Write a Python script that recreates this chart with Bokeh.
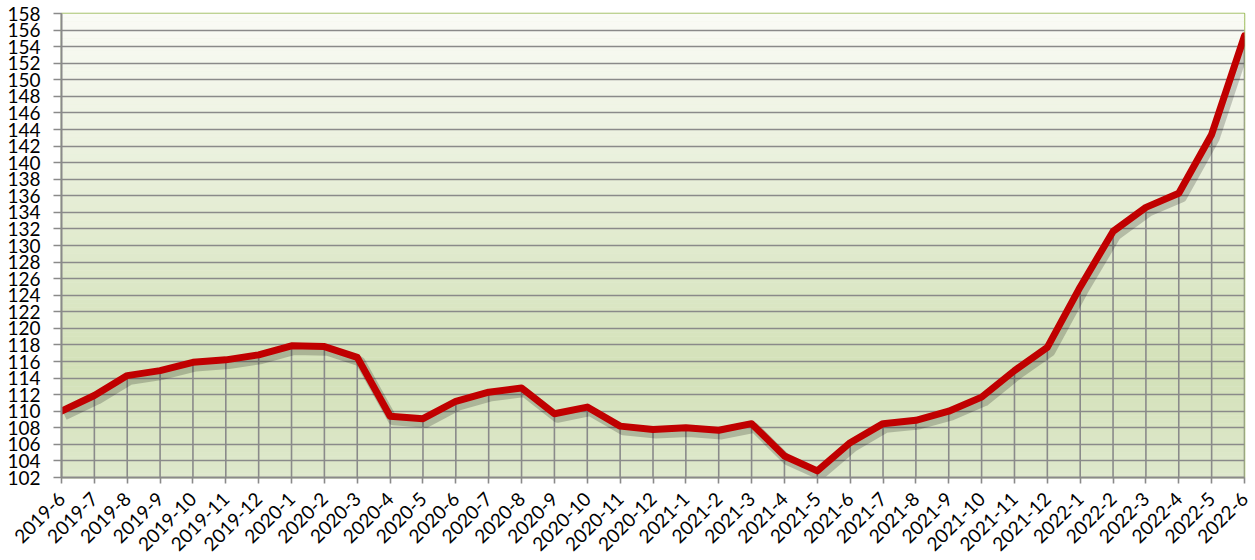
import numpy as np
from bokeh.plotting import figure
from bokeh.models import ColumnDataSource, Range1d, FixedTicker, BoxAnnotation
from bokeh.transform import dodge
from bokeh.embed import file_html
from bokeh.resources import INLINE

months = ["2019-6", "2019-7", "2019-8", "2019-9", "2019-10", "2019-11", "2019-12",
          "2020-1", "2020-2", "2020-3", "2020-4", "2020-5", "2020-6", "2020-7",
          "2020-8", "2020-9", "2020-10", "2020-11", "2020-12", "2021-1", "2021-2",
          "2021-3", "2021-4", "2021-5", "2021-6", "2021-7", "2021-8", "2021-9",
          "2021-10", "2021-11", "2021-12", "2022-1", "2022-2", "2022-3", "2022-4",
          "2022-5", "2022-6"]
values = [110.0, 111.9, 114.3, 114.9, 115.9, 116.2, 116.8,
          117.9, 117.8, 116.5, 109.4, 109.1, 111.2, 112.3,
          112.8, 109.7, 110.5, 108.2, 107.8, 108.0, 107.7,
          108.5, 104.6, 102.8, 106.2, 108.5, 108.9, 110.0,
          111.7, 114.9, 117.7, 125.0, 131.7, 134.6, 136.3,
          143.4, 155.3]
y_ticks = list(range(102, 159, 2))

FONT = "Lato"

idx = list(range(len(months)))
src = ColumnDataSource(dict(x=idx, y=values, base=[y_ticks[0]] * len(months)))

p = figure(width=1252, height=560,
           x_range=Range1d(idx[0], idx[-1]),
           y_range=Range1d(y_ticks[0], y_ticks[-1]),
           output_backend="svg", toolbar_location=None,
           min_border_left=61, min_border_right=8, min_border_top=13, min_border_bottom=10)

# gradient background (decorative bands)
def mix(c1, c2, t):
    return tuple(int(round(a + (b - a) * t)) for a, b in zip(c1, c2))

top_c = (250, 251, 246)
mid_c = (211, 225, 184)
bot_c = (222, 232, 204)
lo, hi = y_ticks[0], y_ticks[-1]
edges = np.linspace(lo, hi, 113)
mid_v = 115.0
for b, t in zip(edges[:-1], edges[1:]):
    c = (b + t) / 2
    if c >= mid_v:
        col = mix(mid_c, top_c, (c - mid_v) / (hi - mid_v))
    else:
        col = mix(bot_c, mid_c, (c - lo) / (mid_v - lo))
    p.add_layout(BoxAnnotation(bottom=b, top=t + 0.02, fill_color="#%02x%02x%02x" % col,
                               fill_alpha=1.0, line_color=None, level="image"))

p.background_fill_color = "#e8efd9"
p.border_fill_color = "white"
p.outline_line_color = "#9BBB59"
p.outline_line_width = 1.5

p.xgrid.visible = False
p.ygrid.grid_line_color = "#8a8a8a"
p.ygrid.grid_line_width = 1.6
p.yaxis.ticker = FixedTicker(ticks=y_ticks)
p.xaxis.ticker = FixedTicker(ticks=idx)
p.xaxis.major_label_overrides = {i: m for i, m in zip(idx, months)}

# drop lines
p.segment(x0="x", y0="base", x1="x", y1="y", source=src,
          line_color="#8a8a8a", line_width=1.6)

# shadow
p.line(x=dodge("x", 0.09), y=dodge("y", -0.5), source=src,
       line_color="black", line_alpha=0.2, line_width=10, line_join="round")
p.line(x="x", y="y", source=src, line_color="#C00000", line_width=7,
       line_join="round", line_cap="round")

for ax in (p.xaxis, p.yaxis):
    ax.major_label_text_font = FONT
    ax.major_label_text_color = "black"
    ax.major_tick_line_color = "#8a8a8a"
    ax.major_tick_line_width = 1.6
    ax.minor_tick_line_color = None
    ax.axis_line_color = "#8a8a8a"
    ax.axis_line_width = 2

p.yaxis.major_label_text_font_size = "19px"
p.yaxis.major_tick_out = 8
p.yaxis.major_tick_in = 0
p.yaxis.major_label_standoff = 13

p.xaxis.major_label_text_font_size = "19px"
p.xaxis.major_label_orientation = np.pi / 4
p.xaxis.major_tick_out = 6
p.xaxis.major_tick_in = 0
p.xaxis.major_label_standoff = 12

open("out.html", "w").write(file_html(p, INLINE))
